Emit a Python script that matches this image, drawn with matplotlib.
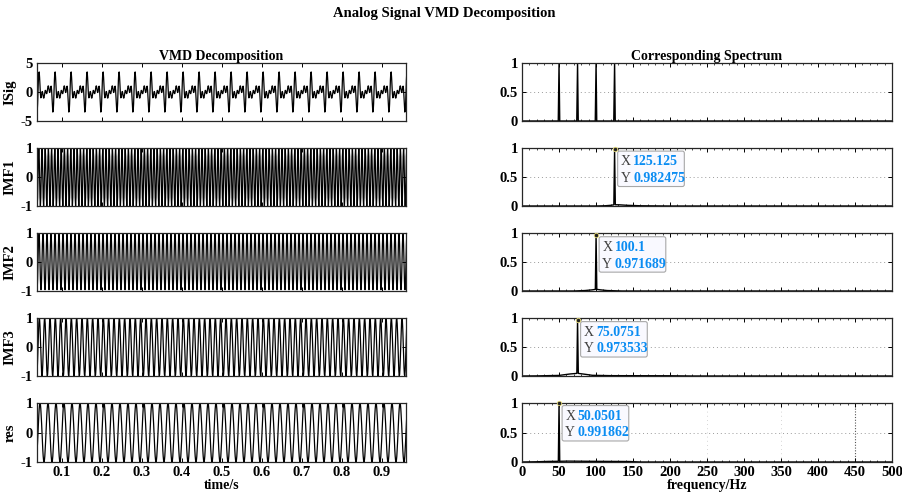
import numpy as np
import matplotlib
matplotlib.use("Agg")
import matplotlib.pyplot as plt
import matplotlib.transforms as mtrans
from matplotlib.patches import FancyBboxPatch
from matplotlib.ticker import MultipleLocator

plt.rcParams["font.family"] = ["Liberation Serif", "DejaVu Serif"]
plt.rcParams["font.weight"] = "bold"

# Sampling of the analog test signal
fs = 1000.0
n_samples = 999

# Components of the test signal (Hz, amplitude), one per mode
mode_names = ["IMF1", "IMF2", "IMF3", "res"]
mode_freqs = [125.0, 100.0, 75.0, 50.0]
mode_amps = [1.0, 1.0, 1.0, 1.0]

# Normalised spectrum of the raw signal
sig_spec_f = [0, 49.0, 50.05, 51.0, 74.0, 75.08, 76.0, 99.0, 100.1, 101.0,
              124.0, 125.13, 126.0, 500]
sig_spec_a = [0, 0, 1.0, 0, 0, 1.0, 0, 0, 1.0, 0, 0, 1.0, 0, 0]

# Normalised spectra of the modes
imf1_spec_f = [0, 100, 112, 120, 124.1, 125.125, 126.1, 132, 142, 160, 200, 500]
imf1_spec_a = [0, 0, 0.004, 0.012, 0.02, 0.982475, 0.022, 0.02, 0.012, 0.004, 0, 0]
imf2_spec_f = [0, 70, 85, 95, 99.1, 100.1, 101.1, 106, 115, 135, 500]
imf2_spec_a = [0, 0, 0.008, 0.02, 0.028, 0.971689, 0.028, 0.02, 0.008, 0, 0]
imf3_spec_f = [0, 20, 50, 65, 74.1, 75.0751, 76.1, 85, 95, 120, 200, 230, 500]
imf3_spec_a = [0, 0.002, 0.01, 0.035, 0.045, 0.973533, 0.045, 0.03, 0.012, 0.006, 0.004, 0, 0]
res_spec_f = [0, 20, 35, 49.1, 50.0501, 51.0, 62, 90, 120, 145, 160, 500]
res_spec_a = [0, 0.004, 0.01, 0.012, 0.991862, 0.012, 0.015, 0.012, 0.01, 0.008, 0, 0]

spec_f = [imf1_spec_f, imf2_spec_f, imf3_spec_f, res_spec_f]
spec_a = [imf1_spec_a, imf2_spec_a, imf3_spec_a, res_spec_a]

# Data-tip readouts (peak location and height)
tip_x = [125.125, 100.1, 75.0751, 50.0501]
tip_y = [0.982475, 0.971689, 0.973533, 0.991862]
tip_x_text = ["125.125", "100.1", "75.0751", "50.0501"]
tip_y_text = ["0.982475", "0.971689", "0.973533", "0.991862"]

t = np.arange(n_samples) / fs
modes = [a * np.sin(2 * np.pi * f * t) for f, a in zip(mode_freqs, mode_amps)]
signal = np.sum(modes, axis=0)

W, H = 902, 495
fig = plt.figure(figsize=(W / 100, H / 100), dpi=100)

rows_px = [(63, 121), (148, 206), (233, 291), (318, 376), (403, 462)]
left_px = (37, 406)
right_px = (522, 892)

TICK_FS = 10.5
LABEL_FS = 10
TIP_BLUE = "#0a8cf2"


def make_ax(cols, rows):
    x0, x1 = cols
    y0, y1 = rows
    return fig.add_axes([x0 / W, 1 - y1 / H, (x1 - x0) / W, (y1 - y0) / H])


def style(ax):
    for s in ax.spines.values():
        s.set_linewidth(0.9)
        s.set_color("#262626")
    ax.tick_params(direction="in", length=3, width=0.7, top=True, right=True,
                   labelsize=TICK_FS, pad=3)
    ax.tick_params(which="minor", direction="in", length=1.6, width=0.5,
                   top=True, right=False)
    for lab in ax.get_xticklabels() + ax.get_yticklabels():
        lab.set_fontweight("bold")


def tick_fmt(v):
    return "%g" % v


# Left column: signal and its modes in time
left_series = [signal] + modes
left_labels = ["ISig"] + mode_names
for i, (y, lab) in enumerate(zip(left_series, left_labels)):
    ax = make_ax(left_px, rows_px[i])
    ax.plot(t, y, color="black", lw=0.9)
    ax.set_xlim(0.0375, 0.96)
    if i == 0:
        ax.set_ylim(-5, 5)
        ax.set_yticks([-5, 0, 5])
        ax.set_title("VMD Decomposition", fontsize=LABEL_FS, fontweight="bold", pad=2)
    else:
        ax.set_ylim(-1, 1)
        ax.set_yticks([-1, 0, 1])
    if i == 4:
        ax.axhline(0, color="#9a9a9a", lw=0.7, ls=(0, (1, 2)), zorder=0)
    ax.set_yticklabels([tick_fmt(v) for v in ax.get_yticks()])
    ax.set_xticks(np.round(np.arange(0.1, 0.95, 0.1), 1))
    if i == 4:
        ax.set_xticklabels([tick_fmt(v) for v in ax.get_xticks()])
        ax.set_xlabel("time/s", fontsize=LABEL_FS, fontweight="bold", labelpad=0)
    else:
        ax.set_xticklabels([])
    ax.set_ylabel(lab, fontsize=LABEL_FS + 0.5, fontweight="bold", labelpad=3)
    style(ax)

# Right column: normalised amplitude spectra
right_f = [sig_spec_f] + spec_f
right_a = [sig_spec_a] + spec_a
for i in range(5):
    ax = make_ax(right_px, rows_px[i])
    ax.axhline(0.5, color="#9a9a9a", lw=0.7, ls=(0, (1, 3)), zorder=0)
    ax.plot(right_f[i], right_a[i], color="black", lw=1.0)
    ax.set_xlim(0, 500)
    ax.set_ylim(0, 1)
    ax.set_yticks([0, 0.5, 1])
    ax.set_yticklabels([tick_fmt(v) for v in ax.get_yticks()])
    ax.set_xticks(np.arange(0, 501, 50))
    ax.xaxis.set_minor_locator(MultipleLocator(10))
    if i == 0:
        ax.set_title("Corresponding Spectrum", fontsize=LABEL_FS, fontweight="bold", pad=2)
    if i == 4:
        ax.set_xticklabels([tick_fmt(v) for v in ax.get_xticks()])
        ax.set_xlabel("frequency/Hz", fontsize=LABEL_FS, fontweight="bold", labelpad=0)
        ax.axvline(450, color="#555555", lw=0.8, ls=(0, (1, 1.5)), zorder=0)
        for xv in (250, 350):
            ax.axvline(xv, color="#c8c8c8", lw=0.6, ls=(0, (1, 4)), zorder=0)
    else:
        ax.set_xticklabels([])
    style(ax)

    if i >= 1:
        k = i - 1
        px, py = tip_x[k], tip_y[k]
        ax.plot([px], [py], "o", ms=3.2, mfc="#222222", mec="#e8dc78",
                mew=0.6, zorder=5, clip_on=False)
        # data-tip text: gray axis letter, blue value
        for row, (letter, val) in enumerate([("X", tip_x_text[k]), ("Y", tip_y_text[k])]):
            dy = -4.5 - 12.0 * row
            ax.annotate(letter, xy=(px, py), xytext=(4.5, dy),
                        textcoords="offset points", ha="left", va="top",
                        fontsize=10, color="#404040", fontweight="normal", zorder=6)
            ax.annotate(val, xy=(px, py), xytext=(13.5, dy),
                        textcoords="offset points", ha="left", va="top",
                        fontsize=10, color=TIP_BLUE, fontweight="bold", zorder=7)
        # data-tip panel anchored at the peak
        anchor = ax.transData.transform((px, py))
        rect = FancyBboxPatch((2.2 / 72, -27.0 / 72), 48.0 / 72, 25.5 / 72,
                              boxstyle="round,pad=0,rounding_size=0.02",
                              transform=fig.dpi_scale_trans
                              + mtrans.Affine2D().translate(*anchor),
                              facecolor="#f9f9ff", edgecolor="#a8a8a8",
                              lw=0.8, zorder=4, clip_on=False)
        ax.add_artist(rect)

fig.suptitle("Analog Signal VMD Decomposition", x=0.492, y=0.985,
             fontsize=10.5, fontweight="bold")

fig.savefig("out.png", dpi=100)
